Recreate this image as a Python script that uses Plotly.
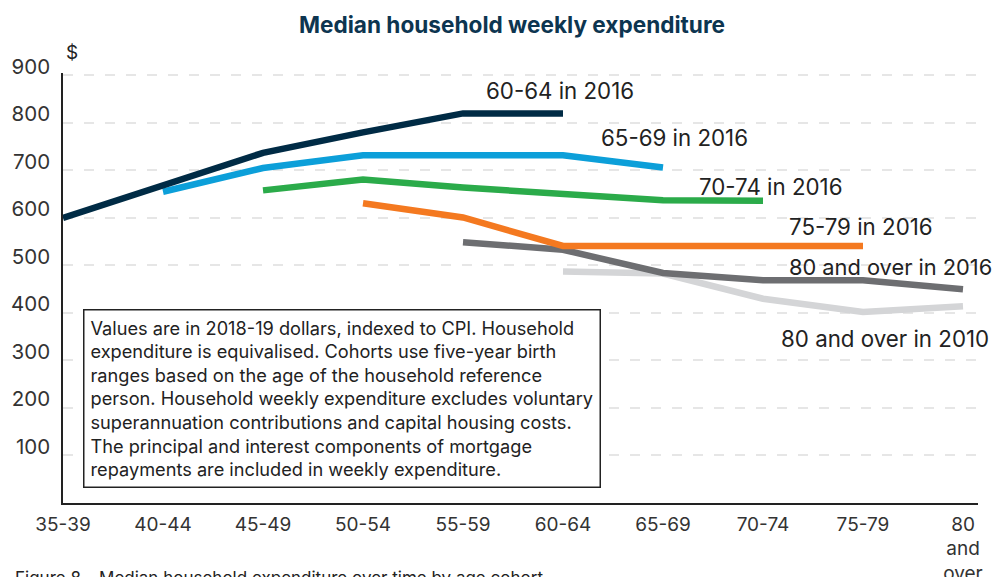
import plotly.graph_objects as go

# age groups on the x axis
age_groups = ['35-39', '40-44', '45-49', '50-54', '55-59',
              '60-64', '65-69', '70-74', '75-79', '80 and over']
age_tick_text = ['35-39', '40-44', '45-49', '50-54', '55-59',
                 '60-64', '65-69', '70-74', '75-79', '80<br>and<br>over']

# each cohort: ages it passes through and median weekly expenditure ($)
c6064_ages = ['35-39', '40-44', '45-49', '50-54', '55-59', '60-64']
c6064_vals = [600, 668, 737, 780, 820, 820]

c6569_ages = ['40-44', '45-49', '50-54', '55-59', '60-64', '65-69']
c6569_vals = [655, 705, 732, 732, 732, 706]

c7074_ages = ['45-49', '50-54', '55-59', '60-64', '65-69', '70-74']
c7074_vals = [658, 681, 664, 651, 637, 636]

c7579_ages = ['50-54', '55-59', '60-64', '65-69', '70-74', '75-79']
c7579_vals = [631, 601, 541, 541, 541, 541]

c80_2016_ages = ['55-59', '60-64', '65-69', '70-74', '75-79', '80 and over']
c80_2016_vals = [549, 533, 484, 469, 469, 450]

c80_2010_ages = ['60-64', '65-69', '70-74', '75-79', '80 and over']
c80_2010_vals = [487, 483, 430, 402, 414]

y_ticks = [100, 200, 300, 400, 500, 600, 700, 800, 900]

note = ('Values are in 2018-19 dollars, indexed to CPI. Household<br>'
        'expenditure is equivalised. Cohorts use five-year birth<br>'
        'ranges based on the age of the household reference<br>'
        'person. Household weekly expenditure excludes voluntary<br>'
        'superannuation contributions and capital housing costs.<br>'
        'The principal and interest components of mortgage<br>'
        'repayments are included in weekly expenditure.')

FONT = 'Inter'
TXT = '#222222'

def pos(ages):
    return [age_groups.index(a) for a in ages]

series = [
    (c80_2010_ages, c80_2010_vals, '#d4d5d7', '80 and over in 2010', 8.22, 347, 22.3),
    (c80_2016_ages, c80_2016_vals, '#6d6e71', '80 and over in 2016', 8.27, 496, 21.8),
    (c7579_ages, c7579_vals, '#f47920', '75-79 in 2016', 7.98, 582, 22.3),
    (c7074_ages, c7074_vals, '#2bab4a', '70-74 in 2016', 7.08, 667, 22.3),
    (c6569_ages, c6569_vals, '#0c9fd9', '65-69 in 2016', 6.11, 770, 22.3),
    (c6064_ages, c6064_vals, '#002b45', '60-64 in 2016', 4.97, 868, 22.3),
]

fig = go.Figure()
annos = []
for ages, vals, col, name, lx, ly, fs in series:
    fig.add_trace(go.Scatter(x=pos(ages), y=vals, mode='lines', name=name,
                             line=dict(color=col, width=6.5), showlegend=False,
                             hoverinfo='skip'))
    annos.append(dict(x=lx, y=ly, xref='x', yref='y', text=name, showarrow=False,
                      font=dict(family=FONT, size=fs, color=TXT)))

# the page body has an 8px margin, so the figure is 8px smaller each way
W, H = 994, 569
L, R, T, B = 55, 24, 65, 74
PW, PH = W - L - R, H - T - B

# note box
annos.append(dict(x=0.2, y=408, xref='x', yref='y', text=note, showarrow=False,
                  xanchor='left', yanchor='top', align='left',
                  bordercolor='#222222', borderwidth=1.5, borderpad=6,
                  bgcolor='white', font=dict(family=FONT, size=18.2, color=TXT)))
# unit label
annos.append(dict(x=9 / PW, y=(PH - 44 + T) / PH, xref='paper', yref='paper', text='$',
                  showarrow=False, xanchor='center', yanchor='middle',
                  font=dict(family=FONT, size=19, color=TXT)))
# caption
annos.append(dict(x=(5 - L) / PW, y=(T + PH - 558) / PH, xref='paper', yref='paper',
                  text='Figure 8 \u2013 Median household expenditure over time by age cohort',
                  showarrow=False, xanchor='left', yanchor='top',
                  font=dict(family=FONT, size=17, color=TXT)))

fig.update_layout(
    width=W, height=H,
    margin=dict(l=L, r=R, t=T, b=B),
    paper_bgcolor='white', plot_bgcolor='white',
    title=dict(text='<b>Median household weekly expenditure</b>', x=504 / W, xanchor='center',
               y=1 - 17 / H, yanchor='middle',
               font=dict(family=FONT, size=22.6, color='#0d3550')),
    annotations=annos,
)
fig.update_xaxes(range=[0, 9.15], tickvals=list(range(len(age_groups))), ticktext=age_tick_text,
                 showgrid=False, showline=True, linecolor='#222222', linewidth=1.5,
                 ticks='', ticklabelstandoff=3, zeroline=False, automargin=False,
                 tickfont=dict(family=FONT, size=19, color='#333333'))
fig.update_yaxes(range=[0, 905], tickvals=y_ticks, showline=True, linecolor='#222222',
                 linewidth=1.5, ticks='', ticklabelstandoff=7, ticklabelshift=-9,
                 showgrid=True, gridcolor='#e6e6e6', gridwidth=2, griddash='10px,11px',
                 zeroline=False, automargin=False,
                 tickfont=dict(family=FONT, size=20.5, color='#333333'))

fig.write_html('out.html')
